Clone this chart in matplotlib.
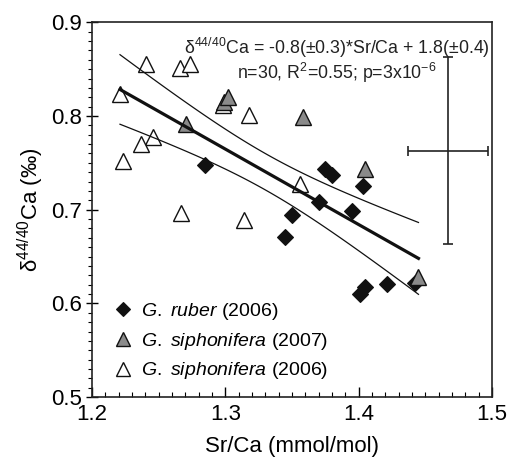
import numpy as np
import matplotlib
matplotlib.use("Agg")
import matplotlib.pyplot as plt
from matplotlib.ticker import MultipleLocator

plt.rcParams['font.family'] = ['Liberation Sans', 'DejaVu Sans']
plt.rcParams['mathtext.fontset'] = 'custom'
plt.rcParams['mathtext.rm'] = 'Liberation Sans'
plt.rcParams['mathtext.it'] = 'Liberation Sans:italic'

# G. ruber (2006)
ruber_x = [1.285, 1.350, 1.345, 1.375, 1.380, 1.403, 1.370, 1.395, 1.4215, 1.405, 1.401, 1.4425]
ruber_y = [0.748, 0.694, 0.671, 0.743, 0.737, 0.725, 0.708, 0.699, 0.621, 0.617, 0.610, 0.622]

# G. siphonifera (2007)
siph07_x = [1.299, 1.302, 1.2705, 1.358, 1.405, 1.4448]
siph07_y = [0.815, 0.820, 0.792, 0.799, 0.743, 0.628]

# G. siphonifera (2006)
siph06_x = [1.2405, 1.266, 1.2735, 1.221, 1.298, 1.246, 1.237, 1.2235, 1.267, 1.314, 1.318, 1.356]
siph06_y = [0.856, 0.851, 0.856, 0.824, 0.812, 0.778, 0.770, 0.7525, 0.696, 0.689, 0.8015, 0.7276]

# representative error cross
err_x, err_y = 1.467, 0.763
err_dx, err_dy = 0.030, 0.100

# regression + 95% confidence band on all samples
all_x = np.array(ruber_x + siph07_x + siph06_x)
all_y = np.array(ruber_y + siph07_y + siph06_y)
n = len(all_x)
slope, icpt = np.polyfit(all_x, all_y, 1)
resid = all_y - (slope * all_x + icpt)
s = np.sqrt(np.sum(resid ** 2) / (n - 2))
sxx = np.sum((all_x - all_x.mean()) ** 2)
xf = np.linspace(all_x.min(), all_x.max(), 100)
yf = slope * xf + icpt
half = 2.048 * s * np.sqrt(1 / n + (xf - all_x.mean()) ** 2 / sxx)

fig = plt.figure(figsize=(5.11, 4.65), dpi=100)
ax = fig.add_axes([0.18, 0.146, 0.783, 0.806])

ax.plot(ruber_x, ruber_y, 'D', ms=8.6, mfc='#111111', mec='#111111', mew=0.8,
        ls='none', label=r'$\it{G.\ ruber}$ (2006)', zorder=3)
ax.plot(siph06_x, siph06_y, '^', ms=11.5, mfc='white', mec='#111111', mew=1.0,
        ls='none', label=r'$\it{G.\ siphonifera}$ (2006)', zorder=3)
ax.plot(siph07_x, siph07_y, '^', ms=11.5, mfc='#8a8a8a', mec='#111111', mew=1.0,
        ls='none', label=r'$\it{G.\ siphonifera}$ (2007)', zorder=4)

ax.plot(xf, yf, color='#111111', lw=2.3, zorder=5)
ax.plot(xf, yf + half, color='#111111', lw=0.9, zorder=5)
ax.plot(xf, yf - half, color='#111111', lw=0.9, zorder=5)

ax.errorbar([err_x], [err_y], xerr=[err_dx], yerr=[err_dy], fmt='none',
            ecolor='#222222', elinewidth=1.2, capsize=3.5, capthick=1.2, zorder=5)

ax.text(0.612, 0.965, 'δ$^{44/40}$Ca = -0.8(±0.3)*Sr/Ca + 1.8(±0.4)\n'
        'n=30, R$^2$=0.55; p=3x10$^{-6}$',
        transform=ax.transAxes, ha='center', va='top', fontsize=12.8,
        linespacing=1.1, color='#222222')

ax.set_xlim(1.2, 1.5)
ax.set_ylim(0.5, 0.9)
ax.xaxis.set_minor_locator(MultipleLocator(0.01))
ax.yaxis.set_minor_locator(MultipleLocator(0.01))
ax.set_xticks([1.2, 1.3, 1.4, 1.5])
ax.set_xticklabels(['1.2', '1.3', '1.4', '1.5'])
ax.set_yticks([0.5, 0.6, 0.7, 0.8, 0.9])
ax.set_yticklabels(['0.5', '0.6', '0.7', '0.8', '0.9'])
ax.tick_params(axis='x', which='major', direction='in', length=7, width=1, labelsize=16, pad=5)
ax.tick_params(axis='x', which='minor', direction='in', length=3.5, width=0.8)
ax.tick_params(axis='y', which='major', direction='inout', length=8, width=1, labelsize=16, pad=3)
ax.tick_params(axis='y', which='minor', direction='out', length=3, width=0.8)
for sp in ax.spines.values():
    sp.set_linewidth(1.2)
    sp.set_color('#222222')

ax.set_xlabel('Sr/Ca (mmol/mol)', fontsize=16, labelpad=8)
ax.set_ylabel('δ$^{44/40}$Ca (‰)', fontsize=16, labelpad=4)

h, l = ax.get_legend_handles_labels()
order = [0, 2, 1]
ax.legend([h[i] for i in order], [l[i] for i in order], loc='lower left',
          bbox_to_anchor=(0.005, -0.005), frameon=False, fontsize=14,
          handletextpad=0.3, labelspacing=0.45, markerscale=0.85, handlelength=1.2)

fig.savefig('out.png', dpi=100)
